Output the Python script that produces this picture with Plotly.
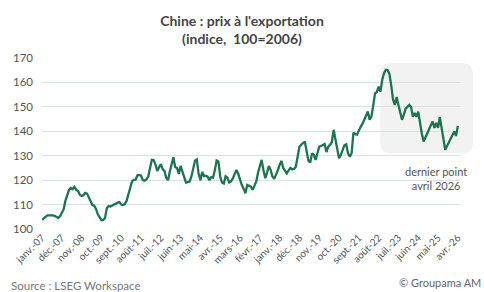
import plotly.graph_objects as go

# Monthly export price index, Jan 2007 .. Apr 2026 (100 = 2006)
values = [
    103.7, 104.2, 105.0, 105.6, 105.7, 105.5, 105.6, 105.4, 105.0, 104.5, 105.2, 106.4,  # 2007
    108.0, 111.5, 113.5, 116.0, 116.8, 116.3, 117.3, 116.0, 115.6, 114.0, 113.5, 113.8,  # 2008
    114.8, 114.5, 113.0, 111.0, 109.8, 109.5, 108.2, 106.0, 104.5, 103.6, 103.7, 104.5,  # 2009
    108.5, 109.4, 109.2, 109.6, 110.2, 110.5, 110.8, 111.0, 110.0, 109.8, 110.2, 111.5,  # 2010
    114.5, 117.5, 119.5, 120.1, 120.2, 122.0, 122.1, 121.8, 120.0, 119.8, 120.3, 121.4,  # 2011
    125.0, 128.3, 128.2, 126.5, 123.8, 125.5, 126.6, 124.5, 123.8, 121.0, 120.0, 123.5,  # 2012
    126.5, 129.4, 125.3, 125.0, 122.6, 125.8, 123.5, 121.2, 119.0, 119.2, 119.4, 121.5,  # 2013
    125.0, 128.0, 128.5, 122.6, 120.0, 123.3, 121.6, 121.8, 121.4, 120.0, 121.2, 121.0,  # 2014
    124.0, 128.0, 127.6, 121.5, 119.0, 118.6, 121.6, 121.0, 119.0, 119.5, 120.7, 122.5,  # 2015
    124.2, 122.6, 120.0, 118.0, 116.5, 114.6, 118.0, 117.6, 117.3, 116.0, 117.5, 119.4,  # 2016
    123.0, 126.2, 128.3, 124.2, 120.8, 123.0, 125.8, 124.2, 121.5, 120.5, 122.0, 124.0,  # 2017
    126.2, 127.9, 125.0, 124.0, 122.8, 124.0, 125.0, 124.4, 124.6, 125.5, 129.0, 133.7,  # 2018
    134.5, 135.1, 135.8, 131.7, 128.0, 127.2, 131.0, 130.3, 128.3, 131.0, 133.7, 134.0,  # 2019
    134.3, 134.8, 131.5, 133.7, 134.5, 135.5, 140.6, 137.0, 132.0, 129.0, 130.3, 132.0,  # 2020
    134.3, 134.7, 131.0, 129.6, 131.0, 139.5, 138.8, 138.6, 140.6, 141.8, 143.0, 144.8,  # 2021
    146.5, 148.1, 144.7, 146.0, 150.5, 155.6, 156.0, 158.3, 156.2, 161.1, 163.8, 165.2,  # 2022
    165.0, 163.5, 158.8, 153.0, 150.8, 154.0, 150.8, 147.5, 144.7, 146.8, 149.3, 150.0,  # 2023
    150.8, 150.0, 146.0, 147.5, 146.0, 148.0, 143.2, 139.0, 135.8, 137.5, 139.5, 141.4,  # 2024
    142.5, 144.0, 141.4, 143.4, 141.4, 145.8, 140.7, 136.0, 132.4, 134.0, 135.5, 137.2,  # 2025
    138.5, 139.9, 138.1, 142.2,                                                          # 2026
]
months = list(range(len(values)))

tick_positions = list(range(0, 232, 11))
tick_labels = ["janv.-07", "déc.-07", "nov.-08", "oct.-09", "sept.-10", "août-11",
               "juil.-12", "juin-13", "mai-14", "avr.-15", "mars-16", "févr.-17",
               "janv.-18", "déc.-18", "nov.-19", "oct.-20", "sept.-21", "août-22",
               "juil.-23", "juin-24", "mai-25", "avr.-26"]
y_ticks = [100, 110, 120, 130, 140, 150, 160, 170]

FONT = "Lato, 'Open Sans', sans-serif"
fig = go.Figure()
fig.add_trace(go.Scatter(x=months, y=values, mode="lines",
                         line=dict(color="#1a7550", width=2.3), hoverinfo="skip"))

# rounded highlight box (paper coords)
x0, x1, y0, y1 = 0.809, 1.031, 0.444, 0.971
rx, ry = 0.026, 0.064
path = (f"M {x0+rx},{y0} L {x1-rx},{y0} Q {x1},{y0} {x1},{y0+ry} "
        f"L {x1},{y1-ry} Q {x1},{y1} {x1-rx},{y1} L {x0+rx},{y1} "
        f"Q {x0},{y1} {x0},{y1-ry} L {x0},{y0+ry} Q {x0},{y0} {x0+rx},{y0} Z")
fig.add_shape(type="path", path=path, xref="paper", yref="paper",
              fillcolor="#f2f2f2", line=dict(width=0), layer="below")

fig.update_layout(
    width=484, height=292,
    margin=dict(l=42, r=24, t=58, b=63),
    paper_bgcolor="white", plot_bgcolor="rgba(0,0,0,0)",
    showlegend=False,
    font=dict(family=FONT, color="#555555"),
    title=dict(text="<b>Chine : prix à l'exportation<br>(indice,  100=2006)</b>",
               x=0.5, xref="container", y=1 - 26 / 292, yref="container",
               yanchor="middle", xanchor="center",
               font=dict(family=FONT, size=14, color="#444444")),
    xaxis=dict(range=[0, 232.2], tickvals=tick_positions, ticktext=tick_labels,
               tickangle=-45, showgrid=False, zeroline=False, showline=False,
               ticks="", tickfont=dict(size=10, color="#555555")),
    yaxis=dict(range=[100, 170], tickvals=y_ticks, showgrid=True,
               gridcolor="#d6e5e2", gridwidth=1, zeroline=False, showline=False,
               ticks="", ticklabelstandoff=8,
               tickfont=dict(size=11.5, color="#555555")),
)
fig.add_annotation(x=0.943, y=0.297, xref="paper", yref="paper",
                   xanchor="center", yanchor="middle",
                   text="dernier point<br>avril 2026", showarrow=False,
                   font=dict(family=FONT, size=11, color="#555555"), align="center")
fig.add_annotation(x=0.0, y=0.0, xref="paper", yref="paper", xshift=-33, yshift=-56,
                   xanchor="left", yanchor="middle",
                   text="Source : LSEG Workspace", showarrow=False,
                   font=dict(family=FONT, size=11.5, color="#777777"))
fig.add_annotation(x=1.0, y=0.0, xref="paper", yref="paper", xshift=23, yshift=-53,
                   xanchor="right", yanchor="middle",
                   text="© Groupama AM", showarrow=False,
                   font=dict(family=FONT, size=11, color="#666666"))

fig.write_html("out.html")
